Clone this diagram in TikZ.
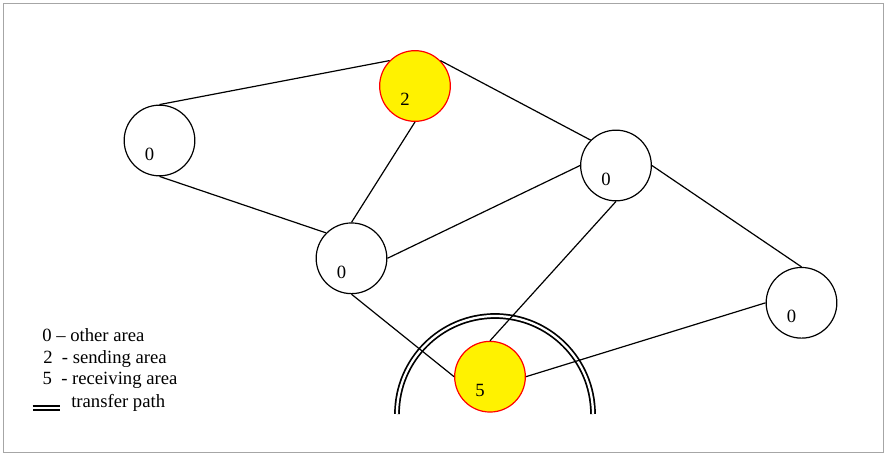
\documentclass[tikz,border=0pt]{standalone}
\usepackage{fontspec}
\setmainfont{Liberation Serif}
\usepackage{tikz}

\begin{document}
\begin{tikzpicture}[x=0.75pt, y=0.75pt, line width=0.9pt,
  font=\fontsize{14}{16}\selectfont,
  area/.style={circle, draw, minimum size=53pt, inner sep=0pt},
  sending/.style={area, draw=red, fill=yellow},
  num/.style={xshift=-7.5pt, yshift=-10.2pt, inner sep=0pt},
  transfer/.style={double, line width=1.3pt, double distance=1.7pt},
  legend/.style={anchor=base west, inner sep=0pt}]
  \useasboundingbox (0,0) rectangle (886,455);
  \draw[gray!70, line width=0.75pt] (3,3) rectangle (883,452);

  \node[area] (A) at (159.5,314.5) [label={[num]center:0}] {};
  \node[sending] (B) at (415,369) [label={[num]center:2}] {};
  \node[area] (C) at (351.5,196.7) [label={[num]center:0}] {};
  \node[area] (D) at (616,289.5) [label={[num]center:0}] {};
  \node[area] (E) at (801.5,152.2) [label={[num]center:0}] {};

  % transfer path round the receiving area
  \coordinate (P) at (495,41);
  \draw[transfer] ([xshift=-73.5pt]P) arc [start angle=180, end angle=0, radius=73.5pt];
  \node[sending] (F) at (490,78.3) [label={[num]center:5}] {};

  \draw (A.north) to (B.north west);
  \draw (A.south) to (C.north west);
  \draw (B.south) to (C.north);
  \draw (B.north east) to (D.north west);
  \draw (C.east) to (D.west);
  \draw (D.south) to (F.north);
  \draw (D.east) to (E.north);
  \draw (C.south) to (F.west);
  \draw (F.east) to (E.west);

  \node[legend] (L0) at (41.7,113.5) {0 – other area};
  \node[legend] (L2) at (42.7,92) {2\ \ - sending area};
  \node[legend] (L5) at (42,70.5) {5\ \ - receiving area};
  \node[legend] (LT) at (70.7,47.5) {transfer path};
  \coordinate (T1) at (32.5,47.3);
  \coordinate (T2) at (59.5,47.3);
  \draw[transfer] (T1) -- (T2);
\end{tikzpicture}
\end{document}
